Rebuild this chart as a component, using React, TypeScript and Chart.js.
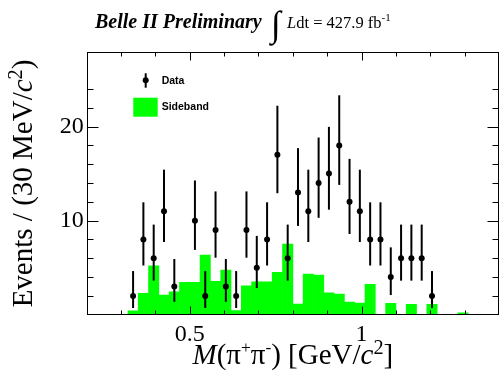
import React, { useEffect, useRef } from "react";
import { Chart, registerables } from "chart.js";

Chart.register(...registerables);

// Bin centres of the 30 MeV/c^2 bins, GeV/c^2
const binCenters = [
  0.335, 0.365, 0.395, 0.425, 0.455, 0.485, 0.515, 0.545, 0.575, 0.605,
  0.635, 0.665, 0.695, 0.725, 0.755, 0.785, 0.815, 0.845, 0.875, 0.905,
  0.935, 0.965, 0.995, 1.025, 1.055, 1.085, 1.115, 1.145, 1.175, 1.205,
  1.235, 1.265, 1.295,
];

// Sideband histogram (scaled)
const sidebandCounts = [
  0.42, 2.27, 5.2, 2.09, 2.44, 3.43, 3.43, 6.33, 3.54, 4.74,
  0.45, 3.08, 3.5, 3.5, 4.5, 7.5, 1.13, 4.32, 4.2, 2.33,
  2.2, 1.35, 1.24, 3.22, 0, 1.2, 0, 1.1, 0, 1.1,
  0, 0, 0.2,
];

// Data counts (first 30 bins), with asymmetric Poisson errors
const dataCounts = [
  2, 8, 6, 11, 3, null, 10, 2, 9, 3,
  2, 9, 5, 8, 17, 6, 13, 11, 14, 15,
  18, 12, 11, 8, 8, 4, 6, 6, 6, 2,
];
const dataErrLow = [
  1.29, 2.77, 2.38, 3.27, 1.63, null, 3.11, 1.29, 2.94, 1.63,
  1.29, 2.94, 2.16, 2.77, 4.08, 2.38, 3.56, 3.27, 3.7, 3.83,
  4.2, 3.42, 3.27, 2.77, 2.77, 1.91, 2.38, 2.38, 2.38, 1.29,
];
const dataErrHigh = [
  2.64, 3.95, 3.58, 4.42, 2.92, null, 4.27, 2.64, 4.11, 2.92,
  2.64, 4.11, 3.38, 3.95, 5.22, 3.58, 4.71, 4.42, 4.84, 4.97,
  5.33, 4.57, 4.42, 3.95, 3.95, 3.16, 3.58, 3.58, 3.58, 2.64,
];

const xLabelValues = [0.5, 1];
const xLabelTexts = ["0.5", "1"];
const yLabelValues = [10, 20];
const yLabelTexts = ["10", "20"];

const SERIF = "'Liberation Serif', 'Times New Roman', serif";
const SANS = "'Liberation Sans', Arial, sans-serif";

type Seg = { t: string; font: string; dy?: number };

function segWidth(ctx: CanvasRenderingContext2D, segs: Seg[]) {
  let w = 0;
  for (const s of segs) {
    ctx.font = s.font;
    w += ctx.measureText(s.t).width;
  }
  return w;
}
function drawSegs(ctx: CanvasRenderingContext2D, segs: Seg[], x: number, y: number) {
  let cx = x;
  for (const s of segs) {
    ctx.font = s.font;
    ctx.fillText(s.t, cx, y + (s.dy || 0));
    cx += ctx.measureText(s.t).width;
  }
}

const rootStyle = {
  id: "rootStyle",
  afterDatasetsDraw(chart: any) {
    const ctx: CanvasRenderingContext2D = chart.ctx;
    const xs = chart.scales.x;
    const ys = chart.scales.y;
    ctx.save();
    ctx.strokeStyle = "#000";
    ctx.lineWidth = 2;
    dataCounts.forEach((n, i) => {
      if (n == null) return;
      const px = xs.getPixelForValue(binCenters[i]);
      ctx.beginPath();
      ctx.moveTo(px, ys.getPixelForValue(n + (dataErrHigh[i] as number)));
      ctx.lineTo(px, ys.getPixelForValue(Math.max(0, n - (dataErrLow[i] as number))));
      ctx.stroke();
    });
    ctx.restore();
  },
  afterDraw(chart: any) {
    const ctx: CanvasRenderingContext2D = chart.ctx;
    const xs = chart.scales.x;
    const ys = chart.scales.y;
    const a = chart.chartArea;
    const L = Math.round(a.left) + 0.5;
    const R = Math.round(a.right) - 0.5;
    const T = Math.round(a.top) + 0.5;
    const B = Math.round(a.bottom) - 0.5;
    ctx.save();
    ctx.strokeStyle = "#000";
    ctx.lineWidth = 1;
    ctx.strokeRect(L, T, R - L, B - T);

    // x ticks (inward, bottom and top)
    ctx.beginPath();
    for (const t of xs.ticks) {
      const v = t.value;
      const k = Math.round(v * 10);
      if (Math.abs(v * 10 - k) > 1e-6) continue;
      const px = Math.round(xs.getPixelForValue(v)) + 0.5;
      if (px <= L + 1 || px >= R - 1) continue;
      const len = k % 5 === 0 ? 8 : 4;
      ctx.moveTo(px, B);
      ctx.lineTo(px, B - len);
      ctx.moveTo(px, T);
      ctx.lineTo(px, T + len);
    }
    // y ticks (inward, left and right)
    for (const t of ys.ticks) {
      const v = t.value;
      const k = Math.round(v / 2);
      if (Math.abs(v / 2 - k) > 1e-6) continue;
      const py = Math.round(ys.getPixelForValue(v)) + 0.5;
      if (py <= T + 1 || py >= B - 1) continue;
      const len = v % 10 === 0 ? 11 : 6;
      ctx.moveTo(L, py);
      ctx.lineTo(L + len, py);
      ctx.moveTo(R, py);
      ctx.lineTo(R - len, py);
    }
    ctx.stroke();

    // Legend
    ctx.fillStyle = "#000";
    ctx.lineWidth = 2;
    ctx.beginPath();
    ctx.moveTo(145.7, 73.3);
    ctx.lineTo(145.7, 87.7);
    ctx.stroke();
    ctx.beginPath();
    ctx.arc(145.7, 80.3, 3, 0, Math.PI * 2);
    ctx.fill();
    ctx.fillStyle = "#00ff00";
    ctx.fillRect(133.3, 97.7, 24.4, 19);
    ctx.fillStyle = "#000";
    ctx.font = `bold 10.5px ${SANS}`;
    ctx.textAlign = "left";
    ctx.textBaseline = "middle";
    ctx.fillText("Data", 161.7, 80.8);
    ctx.fillText("Sideband", 161.7, 107.5);

    // Top title
    ctx.textBaseline = "alphabetic";
    ctx.font = `italic bold 20px ${SERIF}`;
    ctx.fillText("Belle II Preliminary", 95, 28);
    ctx.font = `36px ${SERIF}`;
    ctx.fillText("\u222B", 271, 36);
    drawSegs(
      ctx,
      [
        { t: "L", font: `italic 16.5px ${SERIF}` },
        { t: "dt = 427.9 fb", font: `16.5px ${SERIF}` },
        { t: "-1", font: `11px ${SERIF}`, dy: -7 },
      ],
      287,
      28
    );

    // X axis title
    const S = 29;
    const xt: Seg[] = [
      { t: "M", font: `italic ${S}px ${SERIF}` },
      { t: "(\u03C0", font: `${S}px ${SERIF}` },
      { t: "+", font: `${S * 0.6}px ${SERIF}`, dy: -S * 0.38 },
      { t: "\u03C0", font: `${S}px ${SERIF}` },
      { t: "-", font: `${S * 0.6}px ${SERIF}`, dy: -S * 0.38 },
      { t: ") [GeV/", font: `${S}px ${SERIF}` },
      { t: "c", font: `italic ${S}px ${SERIF}` },
      { t: "2", font: `${S * 0.7}px ${SERIF}`, dy: -S * 0.36 },
      { t: "]", font: `${S}px ${SERIF}` },
    ];
    const xw = segWidth(ctx, xt);
    drawSegs(ctx, xt, (a.left + a.right) / 2 - xw / 2, 364);

    // Y axis title
    const yt: Seg[] = [
      { t: "Events / (30 MeV/", font: `${S}px ${SERIF}` },
      { t: "c", font: `italic ${S}px ${SERIF}` },
      { t: "2", font: `${S * 0.7}px ${SERIF}`, dy: -S * 0.36 },
      { t: ")", font: `${S}px ${SERIF}` },
    ];
    const yw = segWidth(ctx, yt);
    ctx.translate(32, (a.top + a.bottom) / 2);
    ctx.rotate(-Math.PI / 2);
    drawSegs(ctx, yt, -yw / 2, 0);
    ctx.restore();
  },
};

export default function App() {
  const ref = useRef<HTMLCanvasElement | null>(null);
  useEffect(() => {
    if (!ref.current) return;
    document.body.style.margin = "0";
    const barData = binCenters.map((x, i) => ({ x, y: sidebandCounts[i] }));
    const pts = dataCounts.map((n, i) => ({ x: binCenters[i], y: n }));
    const chart = new Chart(ref.current, {
      type: "bar",
      data: {
        datasets: [
          {
            type: "line",
            label: "Data",
            data: pts as any,
            showLine: false,
            pointRadius: 3,
            pointBackgroundColor: "#000",
            pointBorderColor: "#000",
            pointBorderWidth: 0,
            order: 0,
          } as any,
          {
            type: "bar",
            label: "Sideband",
            data: barData as any,
            backgroundColor: "#00ff00",
            borderWidth: 0,
            barPercentage: 1,
            categoryPercentage: 1,
            grouped: false,
            order: 1,
          } as any,
        ],
      },
      options: {
        animation: false,
        responsive: false,
        maintainAspectRatio: false,
        layout: { autoPadding: false, padding: { top: 52.3, right: 1, left: 0, bottom: 0 } },
        plugins: { legend: { display: false }, tooltip: { enabled: false } },
        scales: {
          x: {
            type: "linear",
            min: 0.2,
            max: 1.4,
            offset: false,
            grid: {
              display: true,
              drawOnChartArea: false,
              drawTicks: true,
              tickLength: 6,
              color: "rgba(0,0,0,0)",
              tickColor: "rgba(0,0,0,0)",
              offset: false,
            },
            border: { display: false },
            ticks: {
              stepSize: 0.1,
              autoSkip: false,
              maxRotation: 0,
              padding: 0,
              color: "#000",
              font: { family: SERIF, size: 24 },
              callback: (v: any) => {
                const idx = xLabelValues.findIndex((q) => Math.abs(q - Number(v)) < 1e-6);
                return idx >= 0 ? xLabelTexts[idx] : "";
              },
            },
            afterFit: (s: any) => {
              s.height = 56.3;
              s.paddingLeft = 0;
              s.paddingRight = 0;
            },
          },
          y: {
            type: "linear",
            min: 0,
            max: 27.9,
            grid: { display: false, drawTicks: false },
            border: { display: false },
            ticks: {
              stepSize: 2,
              autoSkip: false,
              padding: 3,
              color: "#000",
              font: { family: SERIF, size: 24 },
              callback: (v: any) => {
                const idx = yLabelValues.findIndex((q) => Math.abs(q - Number(v)) < 1e-6);
                return idx >= 0 ? yLabelTexts[idx] : "";
              },
            },
            afterFit: (s: any) => {
              s.width = 86.7;
              s.paddingTop = 0;
              s.paddingBottom = 0;
            },
          },
        },
      },
      plugins: [rootStyle],
    });
    return () => chart.destroy();
  }, []);
  return (
    <div style={{ position: "absolute", left: 0, top: 0, width: 500, height: 371 }}>
      <canvas ref={ref} width={500} height={371} style={{ display: "block" }} />
    </div>
  );
}
